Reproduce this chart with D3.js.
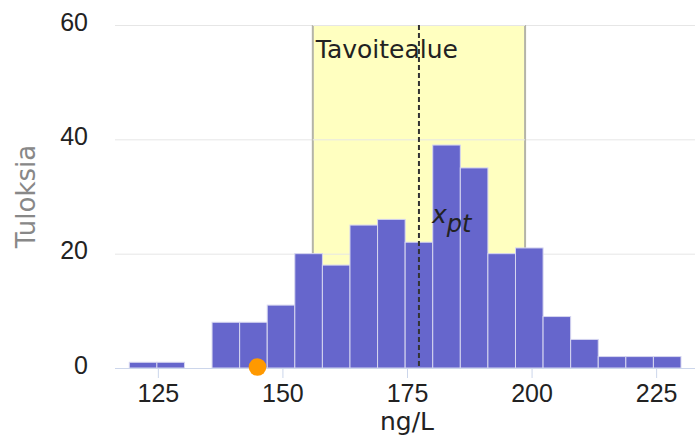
<!DOCTYPE html>
<html>
<head>
<meta charset="utf-8">
<script src="https://cdn.jsdelivr.net/npm/d3@7"></script>
<style>
  body { margin: 0; background: #fff; }
  svg { display: block; font-family: "DejaVu Sans", sans-serif; }
</style>
</head>
<body>
<div id="chart"></div>
<script>
// DATA
const counts = [1, 1, 0, 8, 8, 11, 20, 18, 25, 26, 22, 39, 35, 20, 21, 9, 5, 2, 2, 2];
const binLow = 119.27;   // ng/L, alaraja
const binHigh = 229.99;  // ng/L, yläraja
const xTicks = [125, 150, 175, 200, 225];
const yTicks = [0, 20, 40, 60];
const targetValue = 177.4;          // x_pt
const targetRange = [156.1, 198.7]; // tavoitealue
const ownResult = [145.0];          // oma tulos

const width = 695;
const height = 441;
const margin = { top: 25, right: 0, bottom: 73, left: 115 };

const svg = d3.select("#chart")
    .append("svg")
    .attr("width", width)
    .attr("height", height);

const xScale = d3.scaleLinear()
    .domain([116.4, 232.8])
    .range([margin.left, width - margin.right]);

const yScale = d3.scaleLinear()
    .domain([0, 60])
    .range([height - margin.bottom, margin.top]);

const binWidth = (binHigh - binLow) / counts.length;
const bins = counts.map((c, i) => ({ x0: binLow + i * binWidth, x1: binLow + (i + 1) * binWidth, n: c }));

// gridlines + y axis
const yAxis = d3.axisLeft(yScale)
    .tickValues(yTicks)
    .tickSize(-(width - margin.left - margin.right))
    .tickPadding(27);

const yAxisGroup = svg.append("g")
    .attr("transform", `translate(${margin.left},0)`)
    .call(yAxis);
yAxisGroup.select(".domain").remove();
yAxisGroup.selectAll(".tick line").attr("stroke", "#e6e6e6");
yAxisGroup.selectAll(".tick text")
    .attr("fill", "#222")
    .style("font-size", "25px")
    .attr("dy", "0.2em");

// Tavoitealue
svg.append("rect")
    .attr("x", xScale(targetRange[0]))
    .attr("y", yScale(60))
    .attr("width", xScale(targetRange[1]) - xScale(targetRange[0]))
    .attr("height", yScale(0) - yScale(60))
    .attr("fill", "#ffffc0");

svg.selectAll(".band-edge")
    .data(targetRange)
    .enter()
    .append("line")
    .attr("class", "band-edge")
    .attr("x1", d => xScale(d))
    .attr("x2", d => xScale(d))
    .attr("y1", yScale(60))
    .attr("y2", yScale(0))
    .attr("stroke", "#b4b4a8")
    .attr("stroke-width", 2);

// gridlines again on top of the band
svg.selectAll(".grid2")
    .data(yTicks.filter(d => d > 0))
    .enter()
    .append("line")
    .attr("x1", xScale(targetRange[0]))
    .attr("x2", xScale(targetRange[1]))
    .attr("y1", d => yScale(d) + 0.5)
    .attr("y2", d => yScale(d) + 0.5)
    .attr("stroke", "#e6e6e6");

svg.append("text")
    .attr("x", xScale(targetRange[0]) + 3)
    .attr("y", yScale(60) + 33)
    .attr("fill", "#222")
    .style("font-size", "25px")
    .text("Tavoitealue");

// Bars
svg.selectAll(".bar")
    .data(bins)
    .enter()
    .append("rect")
    .attr("class", "bar")
    .attr("x", d => xScale(d.x0))
    .attr("y", d => yScale(d.n))
    .attr("width", d => xScale(d.x1) - xScale(d.x0))
    .attr("height", d => yScale(0) - yScale(d.n))
    .attr("fill", "#6666cc")
    .attr("stroke", "#d6d6f0")
    .attr("stroke-width", 1);

// x axis
const xAxis = d3.axisBottom(xScale)
    .tickValues(xTicks)
    .tickSize(10)
    .tickPadding(6);

const xAxisGroup = svg.append("g")
    .attr("transform", `translate(0,${yScale(0)})`)
    .call(xAxis);
xAxisGroup.select(".domain").attr("stroke", "#ccd6eb").attr("d", `M${margin.left},0.5H${width}`);
xAxisGroup.selectAll(".tick line").attr("stroke", "#ccd6eb");
xAxisGroup.selectAll(".tick text")
    .attr("fill", "#222")
    .style("font-size", "25px");

// x_pt dashed line
svg.append("line")
    .attr("x1", xScale(targetValue))
    .attr("x2", xScale(targetValue))
    .attr("y1", yScale(60))
    .attr("y2", yScale(0))
    .attr("stroke", "#333")
    .attr("stroke-width", 2)
    .attr("stroke-dasharray", "5,3");

const xpt = svg.append("text")
    .attr("x", xScale(targetValue) + 13)
    .attr("y", yScale(26) + 4)
    .attr("fill", "#222")
    .style("font-size", "25px")
    .style("font-style", "italic");
xpt.append("tspan").text("x");
xpt.append("tspan").attr("dy", 9).style("font-size", "24px").text("pt");

// oma tulos
svg.selectAll(".own")
    .data(ownResult)
    .enter()
    .append("circle")
    .attr("class", "own")
    .attr("cx", d => xScale(d))
    .attr("cy", yScale(0) - 1)
    .attr("r", 8.8)
    .attr("fill", "#ff9900");

// axis titles
svg.append("text")
    .attr("x", xScale(175))
    .attr("y", height - 11)
    .attr("text-anchor", "middle")
    .attr("fill", "#222")
    .style("font-size", "25px")
    .text("ng/L");

svg.append("text")
    .attr("transform", `translate(35, ${(yScale(0) + yScale(60)) / 2}) rotate(-90)`)
    .attr("text-anchor", "middle")
    .attr("fill", "#888")
    .style("font-size", "26px")
    .text("Tuloksia");
</script>
</body>
</html>
